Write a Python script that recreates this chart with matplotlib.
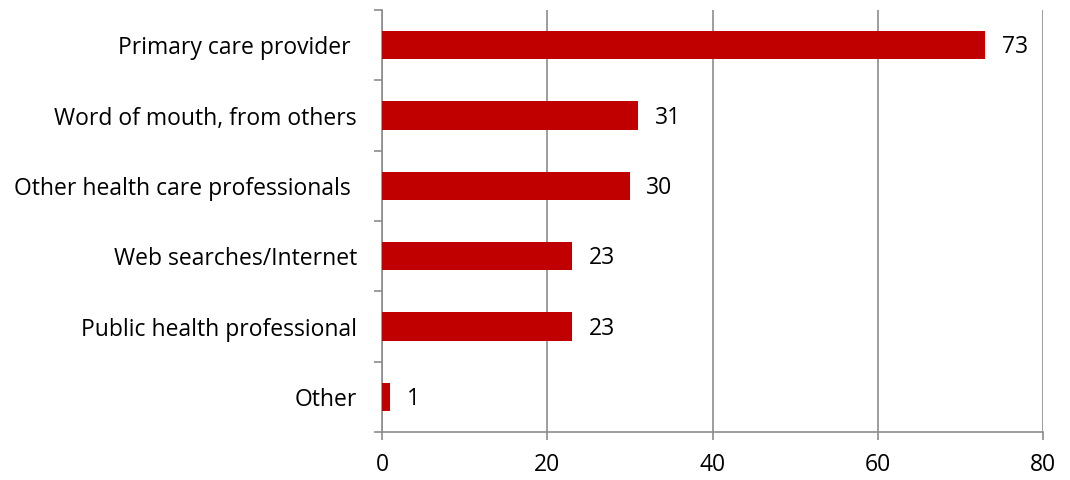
import matplotlib
matplotlib.use("Agg")
import matplotlib.pyplot as plt
import numpy as np

categories = [
    "Primary care provider ",
    "Word of mouth, from others",
    "Other health care professionals ",
    "Web searches/Internet",
    "Public health professional",
    "Other",
]
values = [73, 31, 30, 23, 23, 1]
x_ticks = [0, 20, 40, 60, 80]

plt.rcParams["font.family"] = ["Open Sans", "DejaVu Sans"]
FS = 16.5

fig = plt.figure(figsize=(10.7, 4.8), dpi=100)
ax = fig.add_axes([0.357, 0.1, 0.6178, 0.879])

n = len(categories)
pos = np.arange(n)[::-1]
ax.barh(pos, values, height=0.4, color="#C00000", zorder=3)

for p, v in zip(pos, values):
    ax.text(v + 2.0, p - 0.03, str(v), va="center", ha="left", fontsize=FS, color="black")

ax.set_xlim(0, 80)
ax.set_ylim(-0.5, n - 0.5)
ax.set_xticks(x_ticks)
ax.set_xticklabels([str(t) for t in x_ticks], fontsize=FS)
ax.set_yticks(pos)
ax.set_yticklabels(categories, fontsize=FS)
ax.set_yticks(np.arange(-0.5, n), minor=True)

grid_c = "#8c8c8c"
ax.xaxis.grid(True, color=grid_c, linewidth=1.2, zorder=0)
for s in ["top", "right"]:
    ax.spines[s].set_visible(False)
for s in ["left", "bottom"]:
    ax.spines[s].set_color(grid_c)
    ax.spines[s].set_linewidth(1.2)

ax.tick_params(axis="y", which="major", length=0, pad=18)
ax.tick_params(axis="y", which="minor", length=6, width=1.2, color=grid_c)
ax.tick_params(axis="x", which="major", length=6, width=1.2, color=grid_c, pad=9)

fig.savefig("out.png", dpi=100)
